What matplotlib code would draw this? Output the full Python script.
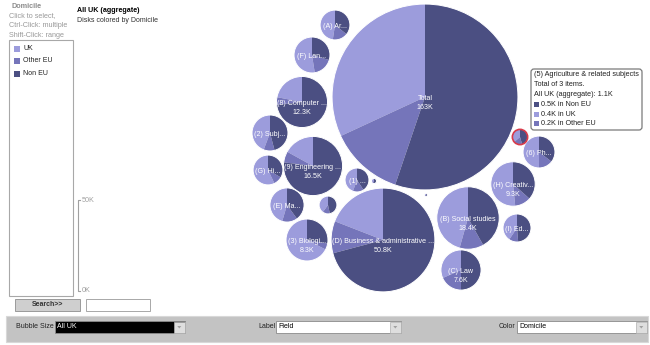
import matplotlib.pyplot as plt
from matplotlib.patches import Rectangle, Circle, FancyBboxPatch, Polygon
import numpy as np

plt.rcParams['font.family'] = ['Liberation Sans', 'DejaVu Sans']

# data (thousands of students, by domicile)
domiciles = ["UK", "Other EU", "Non EU"]
labels = ["Total", "(A) Ar...", "(F) Lan...", "(8) Computer ...", "(2) Subj...",
          "(G) Hi...", "(9) Engineering ...", "(1) ...", "(E) Ma...", "",
          "(3) Biologi...", "(D) Business & administrative ...", "(B) Social studies",
          "(C) Law", "(I) Ed...", "(H) Creativ...", "(6) Ph...", "", "", ""]
uk = [52, 2.0, 3.2, 2.7, 2.7, 2.4, 2.8, 1.2, 2.5, 0.6,
      5.6, 9.7, 8.4, 2.4, 1.5, 4.8, 2.4, 0.4, 0.04, 0.01]
other_eu = [21, 0.7, 1.1, 0.6, 0.6, 0.4, 1.0, 0.4, 0.8, 0.2,
            0.4, 5.1, 2.3, 1.4, 0.4, 1.1, 0.7, 0.2, 0.02, 0.01]
non_eu = [90, 1.5, 1.8, 9.0, 2.8, 1.4, 12.7, 1.1, 2.2, 0.7,
          2.3, 36.0, 7.7, 3.8, 1.8, 3.4, 1.7, 0.5, 0.06, 0.02]
tip_index = 17
tip_title = "(5) Agriculture & related subjects"

# bubble layout (pixel positions of the packing)
bx = [425, 335, 312, 302, 270, 268, 313, 357, 287, 328,
      307, 383, 468, 461, 517, 513, 539, 520, 374, 426]
by = [97, 25, 55, 102, 133, 170, 166, 180, 205, 205,
      240, 240, 218, 270, 228, 184, 152, 137, 181, 195]
scale = 7.28  # px per sqrt(K)

c_uk, c_oeu, c_neu = '#9c9cdc', '#7575ba', '#4b4f82'
grey = '#8c8c8c'
fs = 5.1

fig = plt.figure(figsize=(6.5, 3.45), dpi=100)
ax = fig.add_axes([0, 0, 1, 1])

totals = [a + b + c for a, b, c in zip(uk, other_eu, non_eu)]
for i in range(len(labels)):
    r = scale * np.sqrt(totals[i])
    ax.pie([uk[i], other_eu[i], non_eu[i]], center=(bx[i], by[i]), radius=r,
           startangle=-90, counterclock=False, colors=[c_uk, c_oeu, c_neu],
           wedgeprops=dict(edgecolor='none', linewidth=0), frame=True)
    ec = '#d83a4a' if i == tip_index else 'white'
    ax.add_patch(Circle((bx[i], by[i]), r, facecolor='none', edgecolor=ec,
                        linewidth=1.2 if i == tip_index else 0.7, zorder=3))
    if labels[i]:
        ax.text(bx[i], by[i] + 1.5, labels[i], color='white', fontsize=fs,
                ha='center', va='center', zorder=4)
        if r >= 19.5:
            t = totals[i]
            vs = "%dK" % round(t) if t >= 100 else "%.1fK" % t
            ax.text(bx[i], by[i] + 10.5, vs, color='white', fontsize=fs,
                    ha='center', va='center', zorder=4)

ax.set_xlim(0, 650)
ax.set_ylim(345, 0)
ax.set_aspect('auto')
ax.axis('off')

# left panel
ax.text(12, 6, "Domicile", color=grey, fontsize=5.2, fontweight='bold', va='center')
for k, s in enumerate(["Click to select,", "Ctrl-Click: multiple", "Shift-Click: range"]):
    ax.text(9, 16 + k * 9.7, s, color='#999999', fontsize=5.2, va='center')
ax.add_patch(Rectangle((9, 40), 64, 256, facecolor='white', edgecolor='#a8a8a8', lw=0.8))
for k, (d, c) in enumerate(zip(domiciles, [c_uk, c_oeu, c_neu])):
    yy = 48.5 + k * 12.5
    ax.add_patch(Rectangle((14, yy - 3), 6, 6, facecolor=c, edgecolor='none'))
    ax.text(23, yy, d, color='#222222', fontsize=5, va='center')

# title
ax.text(77, 11, "All UK (aggregate)", color='black', fontsize=5.1, fontweight='bold', va='center')
ax.text(77, 20.5, "Disks colored by Domicile", color='#333333', fontsize=5, va='center')

# size legend
ax.plot([80, 77.5, 77.5, 80], [200, 200, 291, 291], color='#a0a0a0', lw=0.8)
ax.text(82, 200, "50K", color='#a0a0a0', fontsize=5.2, va='center')
ax.text(82, 291, "0K", color='#a0a0a0', fontsize=5.2, va='center')

# tooltip
ax.add_patch(FancyBboxPatch((531, 69), 111, 61, boxstyle="round,pad=0,rounding_size=3",
                            facecolor='white', edgecolor='#7a7a7a', lw=0.9, zorder=5))
i = tip_index
tfs = 5.25
ax.text(534, 75, tip_title, fontsize=tfs, color='#222222', va='center', zorder=6)
ax.text(534, 85, "Total of 3 items.", fontsize=tfs, color='#222222', va='center', zorder=6)
ax.text(534, 95, "All UK (aggregate): %.1fK" % totals[i], fontsize=tfs, color='#222222',
        va='center', zorder=6)
parts = sorted(zip([uk[i], other_eu[i], non_eu[i]], domiciles, [c_uk, c_oeu, c_neu]),
               key=lambda p: -p[0])
for k, (v, d, c) in enumerate(parts):
    yy = 104.5 + k * 9.7
    ax.add_patch(Rectangle((534, yy - 2.5), 5, 5, facecolor=c, edgecolor='none', zorder=6))
    ax.text(541, yy, "%.1fK in %s" % (v, d), fontsize=tfs, color='#222222', va='center', zorder=6)

# search row
ax.add_patch(Rectangle((15, 299), 65, 12, facecolor='#cfcfcf', edgecolor='#9a9a9a', lw=0.7))
ax.text(47.5, 305, "Search>>", fontsize=5, fontweight='bold', color='#333333',
        ha='center', va='center')
ax.add_patch(Rectangle((86, 299), 64, 12, facecolor='white', edgecolor='#a8a8a8', lw=0.7))

# bottom toolbar
ax.add_patch(Rectangle((6, 316), 642, 26, facecolor='#c3c3c3', edgecolor='#d8d8d8', lw=0.8))


def dropdown(x0, x1, text, dark=False):
    ax.add_patch(Rectangle((x0, 321), x1 - x0, 12, facecolor='black' if dark else 'white',
                           edgecolor='#8a8a8a', lw=0.6))
    ax.add_patch(Rectangle((x1 - 11, 321.5), 10.5, 11, facecolor='#dedede',
                           edgecolor='#b0b0b0', lw=0.5))
    cx = x1 - 5.7
    ax.add_patch(Polygon([[cx - 2, 326], [cx + 2, 326], [cx, 328.5]], closed=True,
                         facecolor='#a0a0a0', edgecolor='none'))
    ax.text(x0 + 2, 327, text, fontsize=5, color='white' if dark else 'black', va='center')


ax.text(16, 327, "Bubble Size", fontsize=5, color='#222222', va='center')
dropdown(55, 185, "All UK", dark=True)
ax.text(258, 327, "Label", fontsize=5, color='#222222', va='center')
dropdown(276, 401, "Field")
ax.text(499, 327, "Color", fontsize=5, color='#222222', va='center')
dropdown(517, 647, "Domicile")

fig.savefig('out.png', dpi=100)
